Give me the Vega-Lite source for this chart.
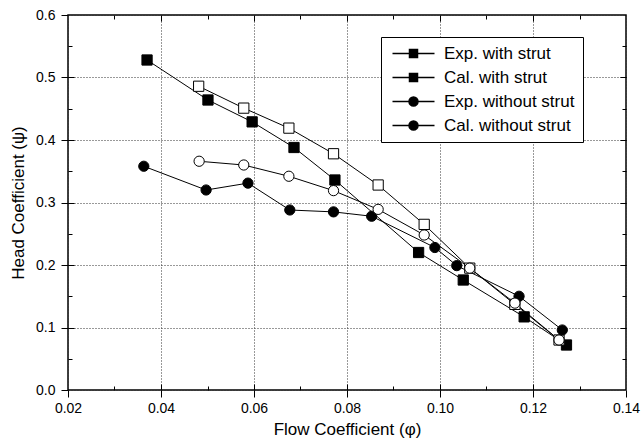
{
  "$schema": "https://vega.github.io/schema/vega-lite/v6.json",
  "width": 558,
  "height": 375,
  "autosize": "none",
  "padding": {"left": 68, "top": 15, "right": 15, "bottom": 53},
  "background": "white",
  "config": {
    "font": "Liberation Sans",
    "view": {"stroke": "black", "strokeWidth": 1.5}
  },
  "data": {
    "values": [
      {"series": "Exp. with strut", "phi": 0.0370, "psi": 0.528},
      {"series": "Exp. with strut", "phi": 0.0501, "psi": 0.464},
      {"series": "Exp. with strut", "phi": 0.0596, "psi": 0.429},
      {"series": "Exp. with strut", "phi": 0.0686, "psi": 0.388},
      {"series": "Exp. with strut", "phi": 0.0774, "psi": 0.336},
      {"series": "Exp. with strut", "phi": 0.0954, "psi": 0.220},
      {"series": "Exp. with strut", "phi": 0.1050, "psi": 0.176},
      {"series": "Exp. with strut", "phi": 0.1181, "psi": 0.117},
      {"series": "Exp. with strut", "phi": 0.1272, "psi": 0.072},
      {"series": "Cal. with strut", "phi": 0.0481, "psi": 0.486},
      {"series": "Cal. with strut", "phi": 0.0578, "psi": 0.451},
      {"series": "Cal. with strut", "phi": 0.0675, "psi": 0.419},
      {"series": "Cal. with strut", "phi": 0.0771, "psi": 0.378},
      {"series": "Cal. with strut", "phi": 0.0867, "psi": 0.328},
      {"series": "Cal. with strut", "phi": 0.0966, "psi": 0.265},
      {"series": "Cal. with strut", "phi": 0.1064, "psi": 0.195},
      {"series": "Cal. with strut", "phi": 0.1161, "psi": 0.137},
      {"series": "Cal. with strut", "phi": 0.1256, "psi": 0.080},
      {"series": "Exp. without strut", "phi": 0.0363, "psi": 0.358},
      {"series": "Exp. without strut", "phi": 0.0497, "psi": 0.320},
      {"series": "Exp. without strut", "phi": 0.0587, "psi": 0.331},
      {"series": "Exp. without strut", "phi": 0.0677, "psi": 0.288},
      {"series": "Exp. without strut", "phi": 0.0771, "psi": 0.285},
      {"series": "Exp. without strut", "phi": 0.0853, "psi": 0.278},
      {"series": "Exp. without strut", "phi": 0.0989, "psi": 0.228},
      {"series": "Exp. without strut", "phi": 0.1036, "psi": 0.199},
      {"series": "Exp. without strut", "phi": 0.1170, "psi": 0.150},
      {"series": "Exp. without strut", "phi": 0.1263, "psi": 0.096},
      {"series": "Cal. without strut", "phi": 0.0482, "psi": 0.366},
      {"series": "Cal. without strut", "phi": 0.0578, "psi": 0.360},
      {"series": "Cal. without strut", "phi": 0.0675, "psi": 0.342},
      {"series": "Cal. without strut", "phi": 0.0771, "psi": 0.319},
      {"series": "Cal. without strut", "phi": 0.0867, "psi": 0.289},
      {"series": "Cal. without strut", "phi": 0.0966, "psi": 0.248},
      {"series": "Cal. without strut", "phi": 0.1064, "psi": 0.195},
      {"series": "Cal. without strut", "phi": 0.1161, "psi": 0.139},
      {"series": "Cal. without strut", "phi": 0.1256, "psi": 0.080}
    ]
  },
  "layer": [
    {
      "mark": {"type": "line", "color": "black", "strokeWidth": 1},
      "encoding": {
        "x": {
          "field": "phi", "type": "quantitative",
          "scale": {"domain": [0.02, 0.14], "nice": false, "zero": false},
          "axis": {
            "orient": "bottom",
            "title": "Flow Coefficient (φ)",
            "values": [0.02, 0.04, 0.06, 0.08, 0.10, 0.12, 0.14],
            "format": ".2f",
            "domain": false,
            "grid": true,
            "gridColor": "#333333",
            "gridDash": [1, 2],
            "gridWidth": 1,
            "ticks": true,
            "tickSize": 7,
            "tickColor": "black",
            "labelFontSize": 14,
            "labelColor": "black",
            "labelPadding": 4,
            "labelFlush": false,
            "labelOverlap": false,
            "titleFontSize": 17,
            "titleFontWeight": "normal",
            "titleColor": "black",
            "titlePadding": 6
          }
        },
        "y": {
          "field": "psi", "type": "quantitative",
          "scale": {"domain": [0, 0.6], "nice": false, "zero": false},
          "axis": {
            "orient": "left",
            "title": "Head Coefficient (ψ)",
            "values": [0, 0.1, 0.2, 0.3, 0.4, 0.5, 0.6],
            "format": ".1f",
            "domain": false,
            "grid": true,
            "gridColor": "#333333",
            "gridDash": [1, 2],
            "gridWidth": 1,
            "ticks": true,
            "tickSize": 7,
            "tickColor": "black",
            "labelFontSize": 14,
            "labelColor": "black",
            "labelPadding": 6,
            "labelFlush": false,
            "labelOverlap": false,
            "titleFontSize": 17,
            "titleFontWeight": "normal",
            "titleColor": "black",
            "titlePadding": 8
          }
        },
        "detail": {"field": "series"},
        "order": {"field": "phi"}
      }
    },
    {
      "mark": {"type": "point", "stroke": "black", "strokeWidth": 1, "size": 105, "opacity": 1},
      "encoding": {
        "x": {"field": "phi", "type": "quantitative", "axis": null},
        "y": {"field": "psi", "type": "quantitative", "axis": null},
        "shape": {
          "field": "series", "type": "nominal",
          "scale": {"domain": ["Exp. with strut", "Cal. with strut", "Exp. without strut", "Cal. without strut"], "range": ["square", "square", "circle", "circle"]},
          "legend": null
        },
        "fill": {
          "field": "series", "type": "nominal",
          "scale": {"domain": ["Exp. with strut", "Cal. with strut", "Exp. without strut", "Cal. without strut"], "range": ["black", "white", "black", "white"]},
          "legend": null
        }
      }
    },
    {
      "mark": {"type": "point", "stroke": "black", "strokeWidth": 1, "size": 100, "opacity": 0},
      "encoding": {
        "x": {"field": "phi", "type": "quantitative", "axis": null},
        "y": {"field": "psi", "type": "quantitative", "axis": null},
        "shape": {
          "field": "series", "type": "nominal",
          "scale": {
            "domain": ["Exp. with strut", "Cal. with strut", "Exp. without strut", "Cal. without strut"],
            "range": [
              "M-1,0H2.4M4,0H7.4M2.4,-0.8H4V0.8H2.4Z",
              "M-1,0H2.4M4,0H7.4M2.4,-0.8H4V0.8H2.4Z",
              "M-1,0H2.3M4.1,0H7.4M2.3,0A0.9,0.9,0,1,0,4.1,0A0.9,0.9,0,1,0,2.3,0Z",
              "M-1,0H2.3M4.1,0H7.4M2.3,0A0.9,0.9,0,1,0,4.1,0A0.9,0.9,0,1,0,2.3,0Z"
            ]
          },
          "legend": {
            "title": null,
            "orient": "none",
            "legendX": 313,
            "legendY": 22,
            "fillColor": "white",
            "strokeColor": "black",
            "padding": 8,
            "labelFontSize": 17,
            "labelColor": "black",
            "labelFont": "Liberation Sans",
            "symbolSize": 100,
            "labelOffset": 38,
            "rowPadding": 6,
            "symbolOpacity": 1,
            "encode": {
              "symbols": {
                "fill": {"condition": {"test": "datum.value == 'Exp. with strut' || datum.value == 'Exp. without strut'", "value": "black"}, "value": "white"},
                "stroke": {"value": "black"},
                "strokeWidth": {"value": 1},
                "opacity": {"value": 1}
              },
              "legend": {"strokeWidth": {"value": 1.5}}
            }
          }
        },
        "fill": {"field": "series", "type": "nominal", "legend": null}
      }
    },
    {
      "mark": {"type": "point", "opacity": 0},
      "encoding": {
        "x": {
          "field": "phi", "type": "quantitative",
          "axis": {
            "orient": "bottom",
            "title": null,
            "values": [0.03, 0.04, 0.05, 0.06, 0.07, 0.08, 0.09, 0.10, 0.11, 0.12, 0.13],
            "labels": false,
            "domain": false,
            "ticks": false,
            "grid": true,
            "gridColor": "black",
            "gridOpacity": 1,
            "gridWidth": 1,
            "gridDash": [4, 367]
          }
        },
        "y": {
          "field": "psi", "type": "quantitative",
          "axis": {
            "orient": "left",
            "title": null,
            "values": [0.05, 0.1, 0.15, 0.2, 0.25, 0.3, 0.35, 0.4, 0.45, 0.5, 0.55],
            "labels": false,
            "domain": false,
            "ticks": false,
            "grid": true,
            "gridColor": "black",
            "gridOpacity": 1,
            "gridWidth": 1,
            "gridDash": [4, 550]
          }
        }
      }
    },
    {
      "mark": {"type": "point", "opacity": 0},
      "encoding": {
        "x": {
          "field": "phi", "type": "quantitative",
          "axis": {
            "orient": "bottom",
            "title": null,
            "values": [0.04, 0.06, 0.08, 0.10, 0.12],
            "labels": false,
            "domain": false,
            "ticks": false,
            "grid": true,
            "gridColor": "black",
            "gridOpacity": 1,
            "gridWidth": 1,
            "gridDash": [6, 363]
          }
        },
        "y": {
          "field": "psi", "type": "quantitative",
          "axis": {
            "orient": "left",
            "title": null,
            "values": [0.1, 0.2, 0.3, 0.4, 0.5],
            "labels": false,
            "domain": false,
            "ticks": false,
            "grid": true,
            "gridColor": "black",
            "gridOpacity": 1,
            "gridWidth": 1,
            "gridDash": [6, 546]
          }
        }
      }
    }
  ],
  "resolve": {
    "axis": {"x": "independent", "y": "independent"},
    "scale": {"shape": "independent"}
  }
}
